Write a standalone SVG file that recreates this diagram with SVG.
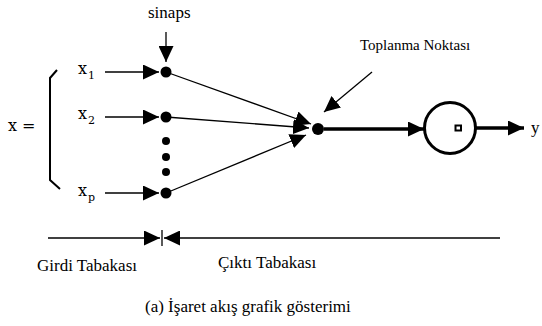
<svg xmlns="http://www.w3.org/2000/svg" width="542" height="326" viewBox="0 0 542 326">
<style>
.t{font-family:'Liberation Serif','Times New Roman',Times,serif;font-size:17px;fill:#000}
.v{font-family:'DejaVu Serif','Liberation Serif',serif;font-size:16px;fill:#000}
.s{font-family:'DejaVu Serif','Liberation Serif',serif;font-size:11px;fill:#000}
.ln{stroke:#000;stroke-width:1.3;fill:none}
.thick{stroke:#000;stroke-width:3.5;fill:none}
</style>
<defs>
<marker id="ah" markerUnits="userSpaceOnUse" markerWidth="16" markerHeight="15" refX="16" refY="7.5" orient="auto">
<path d="M0,0 L16,7.5 L0,15 Z" fill="#000"/>
</marker>
</defs>
<rect width="542" height="326" fill="#fff"/>

<g id="inputs">
<text class="t" x="148" y="18">sinaps</text>
<text class="v" x="78" y="74">x</text><text class="s" x="88" y="79">1</text>
<text class="v" x="78" y="119">x</text><text class="s" x="88" y="124">2</text>
<text class="v" x="78" y="196">x</text><text class="s" x="88" y="201">p</text>
<text class="v" x="8" y="131">x =</text>
<path d="M57,70 L50,78 L50,180 L60,189" stroke="#000" stroke-width="2" fill="none"/>
</g>

<g id="synapses">
<circle cx="166" cy="72" r="5.5"/>
<circle cx="166" cy="117" r="5.5"/>
<circle cx="166" cy="193" r="5.5"/>
<circle cx="166" cy="141" r="4"/>
<circle cx="166" cy="157" r="4"/>
<circle cx="166" cy="172" r="4"/>
</g>

<g id="sum">
<circle cx="318" cy="129" r="6"/>
<text class="t" x="360" y="50" style="font-size:15px">Toplanma Noktası</text>
</g>

<g id="neuron">
<circle cx="450" cy="128" r="25.5" fill="#fff" stroke="#000" stroke-width="3"/>
<rect x="455.5" y="125.5" width="5.5" height="5" fill="#fff" stroke="#000" stroke-width="2"/>
<text class="t" x="531" y="133">y</text>
</g>

<g id="connectors">
<line class="ln" x1="166" y1="32" x2="166" y2="62" marker-end="url(#ah)"/>
<line class="ln" x1="105" y1="72" x2="159" y2="72" marker-end="url(#ah)"/>
<line class="ln" x1="105" y1="117" x2="159" y2="117" marker-end="url(#ah)"/>
<line class="ln" x1="105" y1="193" x2="159" y2="193" marker-end="url(#ah)"/>
<line class="ln" x1="166" y1="72" x2="311" y2="124" marker-end="url(#ah)"/>
<line class="ln" x1="166" y1="117" x2="309" y2="128" marker-end="url(#ah)"/>
<line class="ln" x1="166" y1="193" x2="306" y2="135" marker-end="url(#ah)"/>
<line class="ln" x1="372" y1="72" x2="324" y2="112" marker-end="url(#ah)"/>
<line class="thick" x1="324" y1="129" x2="424" y2="129" marker-end="url(#ah)"/>
<line class="thick" x1="476" y1="128" x2="524" y2="128" stroke-width="3" marker-end="url(#ah)"/>
</g>

<g id="layers">
<line class="ln" x1="48" y1="238" x2="160" y2="238" marker-end="url(#ah)"/>
<line class="ln" x1="162" y1="230" x2="162" y2="246"/>
<line class="ln" x1="500" y1="238" x2="164" y2="238" marker-end="url(#ah)"/>
<text class="t" x="37" y="271">Girdi Tabakası</text>
<text class="t" x="218" y="268">Çıktı Tabakası</text>
<text class="t" x="145" y="312">(a) İşaret akış grafik gösterimi</text>
</g>
</svg>
